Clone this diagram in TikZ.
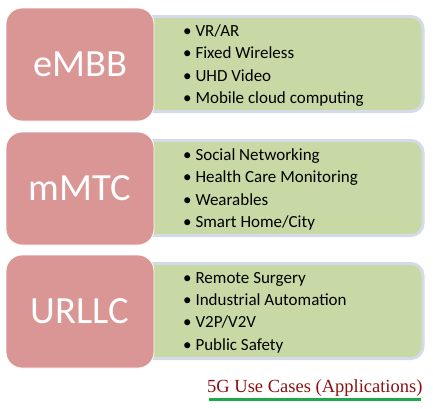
\documentclass[tikz,border=0pt]{standalone}
\usepackage{fontspec}
\setmainfont{Carlito}
\newfontfamily\titlefont{Liberation Serif}
\definecolor{redbox}{HTML}{D99694}
\definecolor{greenbox}{HTML}{C9D9A5}
\definecolor{greenedge}{HTML}{D3DBE8}
\definecolor{titlered}{HTML}{8B1010}
\definecolor{lineGreen}{HTML}{1EA84A}
\begin{document}
\begin{tikzpicture}[x=1pt,y=-1pt,
  catbox/.style={draw=white, line width=0.8pt, fill=redbox, rounded corners=16pt,
    minimum width=148pt, minimum height=113pt, inner sep=0pt,
    text=white, font=\fontsize{38.5}{40}\selectfont},
  listbox/.style={draw=greenedge, line width=3pt, fill=greenbox, rounded corners=12pt,
    minimum width=283pt, minimum height=95pt, inner sep=0pt},
  items/.style={anchor=west, align=left, inner sep=0pt, text=black,
    font=\fontsize{17}{22.4}\selectfont}]
\useasboundingbox (0,0) rectangle (433,408);
% list boxes
\node[listbox] (g1) at (281.5,64) {};
\node[listbox] (g2) at (281.5,188) {};
\node[listbox] (g3) at (281.5,311) {};
% category boxes
\node[catbox] (r1) at (80,64.5) {eMBB};
\node[catbox] (r2) at (80,188.5) {mMTC};
\node[catbox] (r3) at (80,311.5) {URLLC};
% items
\node[items] (l1) at (183,65.5) {• VR/AR\\• Fixed Wireless\\• UHD Video\\• Mobile cloud computing};
\node[items] (l2) at (183,189.5) {• Social Networking\\• Health Care Monitoring\\• Wearables\\• Smart Home/City};
\node[items] (l3) at (183,312.5) {• Remote Surgery\\• Industrial Automation\\• V2P/V2V\\• Public Safety};
% title
\node[anchor=base west, inner sep=0pt, text=titlered, font=\titlefont\fontsize{18.5}{20}\selectfont] (t) at (207,392) {5G Use Cases (Applications)};
\coordinate (u1) at (209,399.5);
\coordinate (u2) at (421,399.5);
\draw[lineGreen, line width=2.6pt] (u1) -- (u2);
\end{tikzpicture}
\end{document}
